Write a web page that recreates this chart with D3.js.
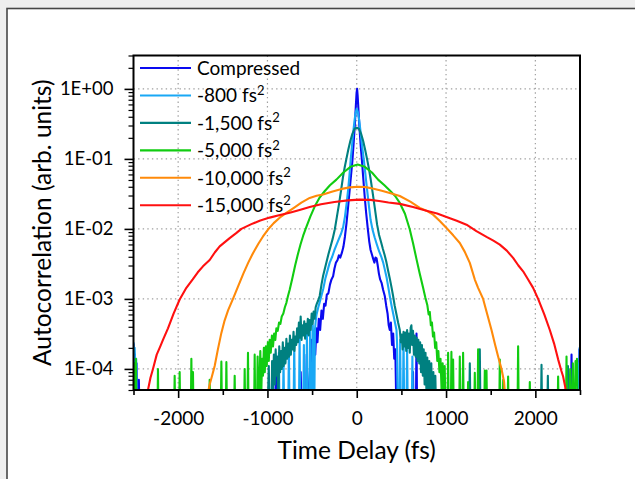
<!DOCTYPE html>
<html>
<head>
<meta charset="utf-8">
<script src="https://cdn.jsdelivr.net/npm/d3@7"></script>
<style>
  body { margin: 0; background: #efefef; }
  svg { display: block; }
  text { font-family: Lato, "Open Sans", sans-serif; fill: #000; }
</style>
</head>
<body>
<script>
// autocorrelation traces, [delay fs, value]; 2e-5 = below noise floor (under the axis)
var compressed = [[-2500,2.3e-4],[-2492,9e-5],[-2485,1.6e-4],[-2476,2e-5],[-2466,1.2e-4],[-2458,2e-5],[-2440,7e-5],[-2432,2e-5],
  [-920,2e-5],[-905,8e-5],[-895,2e-5],[-640,2e-5],[-628,9e-5],[-615,2e-5],[-570,2e-5],[-560,1.6e-4],[-548,2e-5],
  [-520,1.2e-4],[-505,2.6e-4],[-492,1e-4],[-478,3e-4],[-465,1.6e-4],[-452,3.8e-4],[-440,2.4e-4],[-425,5.2e-4],[-410,3.6e-4],
  [-395,6.8e-4],[-380,5.2e-4],[-365,8.5e-4],[-350,8e-4],[-335,1.15e-3],[-318,1.2e-3],[-300,1.6e-3],[-283,1.9e-3],[-265,2.1e-3],
  [-250,2.7e-3],[-233,3.3e-3],[-215,3.6e-3],[-200,4.2e-3],[-185,3.9e-3],[-168,4.5e-3],[-150,5.5e-3],[-132,7.8e-3],[-115,0.012],
  [-98,0.02],[-82,0.033],[-66,0.055],[-50,0.09],[-36,0.16],[-22,0.3],[-10,0.58],[-2,0.88],[4,1.0],[10,0.8],[20,0.48],[32,0.26],
  [45,0.15],[58,0.095],[72,0.055],[88,0.03],[105,0.017],[122,0.0105],[140,6.6e-3],[155,5e-3],[170,4.3e-3],[185,3.7e-3],[198,3.3e-3],
  [210,3.9e-3],[222,3.8e-3],[235,3e-3],[248,2.3e-3],[262,1.9e-3],[278,1.7e-3],[295,1.35e-3],[314,1.1e-3],[330,8e-4],[345,6.2e-4],
  [358,4.2e-4],[370,3.6e-4],[382,4.6e-4],[395,2.2e-4],[408,3.2e-4],[420,1.4e-4],[432,1.9e-4],[445,2e-5],[622,2e-5],[630,9e-5],
  [638,2e-5],[662,2e-5],[669,3.2e-4],[676,2e-5],[2398,2e-5],[2405,1.6e-4],[2413,2e-5],[2485,2e-5],[2494,1.9e-4],[2500,1.2e-4]];

var gdd800 = [[-2500,2.4e-4],[-2494,1.3e-4],[-2487,2e-4],[-2478,9e-5],[-2470,1.4e-4],[-2460,2e-5],
  [-880,2e-5],[-872,1.7e-4],[-864,2e-5],[-828,2e-5],[-820,1.3e-4],[-812,2e-5],[-768,2e-5],[-760,2e-4],[-752,2e-5],
  [-708,2e-5],[-700,2.4e-4],[-692,2e-5],[-648,2e-5],[-640,3e-4],[-632,2e-5],[-600,2e-5],[-592,2.2e-4],[-584,2e-5],
  [-566,2e-5],[-558,3.5e-4],[-550,2e-5],[-530,2e-5],[-522,4e-4],[-514,2e-5],[-500,2e-5],[-492,4.2e-4],[-484,2e-5],
  [-476,2e-5],[-468,3.6e-4],[-460,4.8e-4],[-450,6e-4],[-432,7.5e-4],[-415,9e-4],[-396,1.1e-3],[-375,1.4e-3],[-350,2e-3],
  [-325,2.6e-3],[-303,3.3e-3],[-275,4e-3],[-250,5e-3],[-225,6e-3],[-200,7.2e-3],[-175,8.6e-3],[-153,0.0105],[-132,0.015],
  [-112,0.024],[-95,0.038],[-80,0.062],[-67,0.1],[-52,0.16],[-38,0.25],[-24,0.36],[-12,0.46],[0,0.52],[12,0.47],[26,0.37],
  [42,0.25],[58,0.16],[78,0.1],[96,0.062],[115,0.037],[135,0.022],[155,0.0135],[175,0.01],[200,7.6e-3],[225,6e-3],[250,4.8e-3],
  [275,4e-3],[296,3.3e-3],[315,2.6e-3],[335,2e-3],[352,1.5e-3],[370,1.1e-3],[390,8e-4],[410,6e-4],[428,4.6e-4],[445,3.6e-4],
  [452,2.2e-4],[460,2e-5],[478,2e-5],[486,2.6e-4],[494,2e-5],[516,2e-5],[524,3e-4],[532,2e-5],[556,2e-5],[564,2.1e-4],
  [572,2e-5],[615,2e-5],[623,1.5e-4],[631,2e-5],[2470,2e-5],[2478,1.2e-4],[2486,2e-5],[2490,2e-5],[2496,2e-4],[2500,1.5e-4]];

var gdd1500 = [[-1000,2e-5],[-985,1.1e-4],[-975,2e-5],[-955,2e-5],[-948,1.3e-4],[-938,5e-5],[-928,1.6e-4],[-918,6e-5],
  [-908,1.9e-4],[-898,8e-5],[-888,1.5e-4],[-878,2e-5],[-868,2.1e-4],[-858,9e-5],[-848,1.8e-4],[-838,1e-4],[-828,2.4e-4],
  [-818,1.1e-4],[-808,2e-4],[-798,1.2e-4],[-788,2.7e-4],[-778,1.4e-4],[-768,2.3e-4],[-758,1.5e-4],[-748,3e-4],[-738,1.6e-4],
  [-728,2.6e-4],[-718,1.9e-4],[-708,3.4e-4],[-698,1.8e-4],[-688,2.9e-4],[-678,2.2e-4],[-668,3.8e-4],[-658,2.4e-4],[-648,4.6e-4],
  [-638,2.8e-4],[-628,5.6e-4],[-618,2.6e-4],[-608,4.2e-4],[-598,3e-4],[-588,4.8e-4],[-578,2.7e-4],[-568,4.4e-4],[-558,3.2e-4],
  [-548,5.2e-4],[-538,3e-4],[-527,5e-4],[-516,3.6e-4],[-505,6.2e-4],[-494,4.4e-4],[-483,6.6e-4],[-472,5.2e-4],[-460,7.6e-4],
  [-448,8.5e-4],[-432,9.5e-4],[-415,1.1e-3],[-395,1.6e-3],[-378,2.1e-3],[-360,2.6e-3],[-340,3.3e-3],[-318,4.3e-3],[-295,5.5e-3],
  [-270,7.2e-3],[-246,9.8e-3],[-222,0.015],[-198,0.023],[-175,0.036],[-155,0.054],[-135,0.076],[-116,0.1],[-95,0.135],[-72,0.18],
  [-48,0.23],[-24,0.27],[0,0.28],[24,0.27],[48,0.23],[72,0.18],[94,0.135],[115,0.1],[134,0.075],[155,0.052],[178,0.033],[202,0.02],
  [228,0.0115],[250,8.2e-3],[272,6.5e-3],[292,5.2e-3],[313,4.2e-3],[333,3.3e-3],[352,2.5e-3],[372,1.9e-3],[390,1.45e-3],[407,1.1e-3],
  [425,8e-4],[445,6e-4],[463,4.6e-4],[482,3.6e-4],[494,2.4e-4],[504,3.1e-4],[514,1.9e-4],[524,3.4e-4],[534,2.1e-4],[544,3.3e-4],
  [554,1.8e-4],[564,3.6e-4],[574,2e-4],[584,3.2e-4],[594,1.7e-4],[604,3.9e-4],[612,4.2e-4],[620,2.2e-4],[630,3.5e-4],[640,1.6e-4],
  [650,3e-4],[660,1.5e-4],[670,2.8e-4],[680,1.3e-4],[690,2.6e-4],[700,1.2e-4],[710,2.4e-4],[720,9e-5],[730,2.2e-4],[740,8e-5],
  [750,1.9e-4],[760,6e-5],[770,1.7e-4],[780,5e-5],[790,1.45e-4],[800,2e-5],[812,1.3e-4],[822,2e-5],[835,1.2e-4],[845,2e-5],
  [858,9e-5],[868,2e-5],[880,8e-5],[890,2e-5],[1258,2e-5],[1266,1.2e-4],[1274,2e-5],[1370,2e-5],[1378,1.9e-4],[1386,2e-5],
  [2062,2e-5],[2069,1.15e-4],[2076,2e-5],[2133,2e-5],[2140,8e-5],[2147,2e-5],[2358,2e-5],[2365,1.1e-4],[2372,2e-5],[2500,2e-5]];

var gdd5000 = [[-2500,2e-5],[-2490,1.2e-4],[-2482,2e-5],[-2474,1.4e-4],[-2466,2e-5],[-2232,2e-5],[-2226,1e-4],[-2220,2e-5],
  [-2046,2e-5],[-2039,8e-5],[-2032,2e-5],[-1990,2e-5],[-1983,9e-5],[-1976,2e-5],[-1859,2e-5],[-1852,1.4e-4],[-1845,2e-5],
  [-1840,2e-5],[-1834,9e-5],[-1828,2e-5],[-1654,2e-5],[-1647,7e-5],[-1640,2e-5],[-1523,2e-5],[-1516,1.27e-4],[-1509,2e-5],
  [-1467,2e-5],[-1460,1.25e-4],[-1453,2e-5],[-1374,2e-5],[-1367,8e-5],[-1360,2e-5],[-1262,2e-5],[-1255,1e-4],[-1248,2e-5],
  [-1225,2e-5],[-1218,1.7e-4],[-1211,2e-5],[-1150,2e-5],[-1143,1.6e-4],[-1136,2e-5],[-1118,2e-5],[-1110,1.5e-4],[-1102,2e-5],
  [-1090,6e-5],[-1080,1.8e-4],[-1070,4e-5],[-1060,1.4e-4],[-1050,8e-5],[-1040,2e-4],[-1030,9e-5],[-1018,2.1e-4],[-1008,1.1e-4],
  [-995,2.4e-4],[-985,1.3e-4],[-975,2.6e-4],[-963,1.7e-4],[-950,3e-4],[-938,2.1e-4],[-925,3.2e-4],[-912,2.6e-4],[-900,3.8e-4],
  [-885,3.5e-4],[-870,4.6e-4],[-855,4.4e-4],[-840,5.6e-4],[-822,6.2e-4],[-805,7.6e-4],[-788,8.8e-4],[-770,1.1e-3],[-751,1.35e-3],
  [-720,2e-3],[-690,3e-3],[-660,4.3e-3],[-630,6e-3],[-600,8e-3],[-564,0.0107],[-520,0.015],[-470,0.021],[-420,0.0275],
  [-360,0.0345],[-300,0.042],[-228,0.0506],[-150,0.064],[-70,0.077],[10,0.083],[90,0.077],[170,0.064],[239,0.0506],[310,0.042],
  [370,0.0355],[430,0.0295],[482,0.0235],[540,0.0165],[594,0.0098],[630,6.3e-3],[669,3.7e-3],[705,2.3e-3],[743,1.44e-3],
  [768,1.05e-3],[790,8.2e-4],[805,6e-4],[818,6.5e-4],[830,4.2e-4],[842,4.6e-4],[854,2.9e-4],[866,3.3e-4],[878,2e-4],[890,2.4e-4],
  [902,1.3e-4],[914,1.8e-4],[926,9e-5],[938,1.4e-4],[950,5e-5],[962,1.2e-4],[972,2e-5],[985,1.1e-4],[995,2e-5],[1016,2e-5],
  [1023,1.7e-4],[1030,2e-5],[1053,2e-5],[1060,1.75e-4],[1067,2e-5],[1072,2e-5],[1079,1.36e-4],[1086,2e-5],[1147,2e-5],
  [1154,1.5e-4],[1161,2e-5],[1184,2e-5],[1191,1.7e-4],[1198,2e-5],[1240,2e-5],[1247,6.5e-5],[1254,2e-5],[1315,2e-5],
  [1322,8.8e-5],[1329,2e-5],[1352,2e-5],[1359,1.9e-4],[1366,2e-5],[1427,2e-5],[1434,9.5e-5],[1441,2e-5],[1446,2e-5],
  [1453,9.5e-5],[1460,2e-5],[1595,2e-5],[1602,1.36e-4],[1609,2e-5],[1633,2e-5],[1640,7e-5],[1647,2e-5],[1688,2e-5],
  [1695,7.8e-5],[1702,2e-5],[1800,2e-5],[1807,2.1e-4],[1814,2e-5],[1931,2e-5],[1938,6.5e-5],[1945,2e-5],[2248,2e-5],
  [2255,7.8e-5],[2262,2e-5],[2342,2e-5],[2349,1.5e-4],[2356,2e-5],[2380,2e-5],[2390,1e-4],[2400,2e-5],[2413,2e-5],
  [2420,1.2e-4],[2427,2e-5],[2440,2e-5],[2450,1.3e-4],[2458,6e-5],[2466,1.4e-4],[2474,2e-5],[2500,2e-5]];

var gdd10000 = [[-1700,2e-5],[-1660,5e-5],[-1647,6e-5],[-1620,8e-5],[-1591,1.1e-4],[-1555,1.9e-4],[-1516,3.27e-4],
  [-1480,4.9e-4],[-1440,6.9e-4],[-1386,1e-3],[-1330,1.5e-3],[-1270,2.3e-3],[-1215,3.3e-3],[-1162,4.5e-3],[-1100,6.2e-3],
  [-1050,7.8e-3],[-994,9.8e-3],[-930,0.0121],[-860,0.0146],[-788,0.0169],[-700,0.0202],[-620,0.0238],[-527,0.0277],
  [-450,0.0298],[-377,0.031],[-280,0.034],[-180,0.037],[-80,0.0392],[20,0.04],[100,0.0395],[190,0.0375],[280,0.035],
  [370,0.0326],[482,0.0295],[600,0.0245],[706,0.02],[780,0.0182],[855,0.016],[930,0.013],[1005,0.0103],[1080,8.1e-3],
  [1154,6.3e-3],[1210,4.7e-3],[1266,3.27e-3],[1322,1.89e-3],[1359,1.44e-3],[1415,1e-3],[1462,6e-4],[1509,3.6e-4],
  [1550,2.2e-4],[1583,1.51e-4],[1621,1e-4],[1650,6.5e-5],[1680,2e-5]];

var gdd15000 = [[-2370,2e-5],[-2338,5e-5],[-2310,7.5e-5],[-2282,1e-4],[-2240,1.6e-4],[-2200,2.1e-4],[-2170,2.6e-4],
  [-2114,3.8e-4],[-2050,6.2e-4],[-1983,9.8e-4],[-1908,1.44e-3],[-1837,1.9e-3],[-1780,2.4e-3],[-1722,2.92e-3],[-1647,3.6e-3],
  [-1590,4.6e-3],[-1535,5.64e-3],[-1423,7.4e-3],[-1350,8.7e-3],[-1292,0.01],[-1180,0.0117],[-1080,0.0132],[-975,0.0145],
  [-860,0.0158],[-751,0.017],[-640,0.0187],[-527,0.0205],[-400,0.0225],[-250,0.0243],[-100,0.0256],[30,0.0262],[150,0.026],
  [250,0.025],[355,0.0238],[482,0.0228],[630,0.0205],[781,0.0182],[900,0.0166],[1005,0.0148],[1120,0.0131],[1229,0.0115],
  [1340,9.3e-3],[1453,7.69e-3],[1530,6.8e-3],[1602,5.97e-3],[1680,4.9e-3],[1751,3.85e-3],[1810,3e-3],[1863,2.48e-3],
  [1919,1.89e-3],[1975,1.44e-3],[2031,1e-3],[2100,6e-4],[2162,3.6e-4],[2210,2.3e-4],[2255,1.37e-4],[2290,9.5e-5],
  [2311,7.8e-5],[2335,5.5e-5],[2360,2e-5]];

var seriesData = [compressed, gdd800, gdd1500, gdd5000, gdd10000, gdd15000];
var seriesNames = ["Compressed", "-800 fs", "-1,500 fs", "-5,000 fs", "-10,000 fs", "-15,000 fs"];
var seriesSup = ["", "2", "2", "2", "2", "2"];
var seriesColors = ["#0a0af0", "#19a8f5", "#008080", "#11cc11", "#ff8a0a", "#ff1010"];

var xMajor = [-2000, -1000, 0, 1000, 2000];
var xMinor = [-2500, -1500, -500, 500, 1500, 2500];
var yMajor = [1e-4, 1e-3, 1e-2, 1e-1, 1];

var W = 635, H = 479;
var plotL = 133.5, plotR = 580, plotT = 55.5, plotB = 390;

var svg = d3.select("body").append("svg")
    .attr("width", W)
    .attr("height", H);

// white figure panel with a frame
svg.append("rect")
    .attr("x", 7).attr("y", 8.5)
    .attr("width", W).attr("height", H)
    .attr("fill", "#fff")
    .attr("stroke", "#474747")
    .attr("stroke-width", 1.6);

var x = d3.scaleLinear().domain([-2500, 2500]).range([plotL, plotR]);
var y = d3.scaleLog().domain([5e-5, 3]).range([plotB, plotT]);

// grid
var grid = svg.append("g").attr("stroke", "#a0a0a0").attr("stroke-width", 1.2).attr("stroke-dasharray", "1.4,3.2");
grid.selectAll(".gx").data(xMajor).enter().append("line")
    .attr("x1", function (d) { return x(d); }).attr("x2", function (d) { return x(d); })
    .attr("y1", plotT).attr("y2", plotB);
grid.selectAll(".gy").data(yMajor).enter().append("line")
    .attr("x1", plotL).attr("x2", plotR)
    .attr("y1", function (d) { return y(d); }).attr("y2", function (d) { return y(d); });

svg.append("clipPath").attr("id", "plotclip")
    .append("rect")
    .attr("x", plotL).attr("y", plotT)
    .attr("width", plotR - plotL).attr("height", plotB - plotT);

var line = d3.line()
    .x(function (d) { return x(d[0]); })
    .y(function (d) { return y(d[1]); });

svg.append("g").attr("clip-path", "url(#plotclip)")
    .selectAll("path")
    .data(seriesData)
    .enter().append("path")
    .attr("d", line)
    .attr("fill", "none")
    .attr("stroke", function (d, i) { return seriesColors[i]; })
    .attr("stroke-width", 2.1)
    .attr("stroke-linejoin", "round");

// axes
var xAxis = svg.append("g")
    .attr("transform", "translate(0," + plotB + ")")
    .call(d3.axisBottom(x).tickValues(xMajor).tickSize(8).tickFormat(function (d) { return String(d); }));
xAxis.select(".domain").remove();
xAxis.selectAll("line").attr("stroke-width", 1.6);
xAxis.selectAll("text")
    .attr("y", 35).attr("dy", 0)
    .style("font-size", "19px")
    .style("font-family", "Lato, 'Open Sans', sans-serif");

var xMin = svg.append("g")
    .attr("transform", "translate(0," + plotB + ")")
    .call(d3.axisBottom(x).tickValues(xMinor).tickSize(5).tickFormat(""));
xMin.select(".domain").remove();
xMin.selectAll("line").attr("stroke-width", 1.6);

var yMinor = [];
for (var e = -5; e <= 0; e++) {
  for (var m = 2; m <= 9; m++) {
    var v = m * Math.pow(10, e);
    if (v >= 5e-5 && v <= 3) yMinor.push(v);
  }
}

var yAxis = svg.append("g")
    .attr("transform", "translate(" + plotL + ",0)")
    .call(d3.axisLeft(y).tickValues(yMajor).tickSize(9).tickPadding(11)
      .tickFormat(function (d) {
        var p = Math.round(Math.log10(d));
        return "1E" + (p < 0 ? "-" : "+") + (Math.abs(p) < 10 ? "0" : "") + Math.abs(p);
      }));
yAxis.select(".domain").remove();
yAxis.selectAll("line").attr("stroke-width", 1.6);
yAxis.selectAll("text")
    .style("font-size", "18.5px")
    .style("font-family", "Lato, 'Open Sans', sans-serif");

var yMin = svg.append("g")
    .attr("transform", "translate(" + plotL + ",0)")
    .call(d3.axisLeft(y).tickValues(yMinor).tickSize(5).tickFormat(""));
yMin.select(".domain").remove();
yMin.selectAll("line").attr("stroke-width", 1.2);

// plot box
svg.append("rect")
    .attr("x", plotL).attr("y", plotT)
    .attr("width", plotR - plotL).attr("height", plotB - plotT)
    .attr("fill", "none")
    .attr("stroke", "#000")
    .attr("stroke-width", 2);

// titles
svg.append("text")
    .attr("x", (plotL + plotR) / 2).attr("y", 459)
    .attr("text-anchor", "middle")
    .style("font-size", "24.5px")
    .text("Time Delay (fs)");

svg.append("text")
    .attr("transform", "translate(51," + (plotT + plotB) / 2 + ") rotate(-90)")
    .attr("text-anchor", "middle")
    .style("font-size", "24.5px")
    .text("Autocorrelation (arb. units)");

// legend
var legend = svg.append("g").attr("transform", "translate(140,68)");
var rows = legend.selectAll("g").data(seriesNames).enter().append("g")
    .attr("transform", function (d, i) { return "translate(0," + (i * 27.45) + ")"; });
rows.append("line")
    .attr("x1", 0).attr("x2", 51).attr("y1", 0).attr("y2", 0)
    .attr("stroke", function (d, i) { return seriesColors[i]; })
    .attr("stroke-width", 2.1);
var lt = rows.append("text")
    .attr("x", 57).attr("y", 7)
    .style("font-size", "19px");
lt.append("tspan").text(function (d) { return d; });
lt.append("tspan")
    .attr("dy", -7.5)
    .style("font-size", "13px")
    .text(function (d, i) { return seriesSup[i]; });
</script>
</body>
</html>
